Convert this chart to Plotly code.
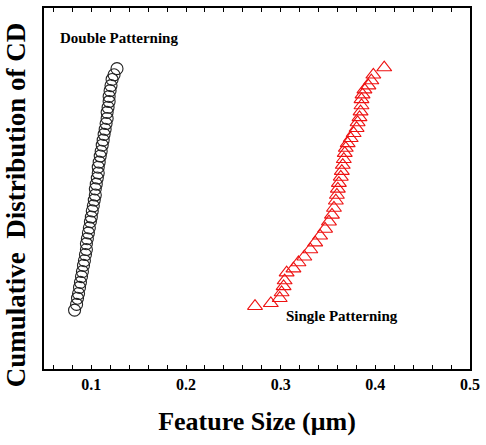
import plotly.graph_objects as go

# Double patterning (circles): feature size (um) and cumulative position (%)
dp_size = [0.0823, 0.0844, 0.0854, 0.0865, 0.0875, 0.0885, 0.0896, 0.0906, 0.0917, 0.0927,
           0.0938, 0.0948, 0.0948, 0.0958, 0.0969, 0.0979, 0.0990, 0.1000, 0.1010, 0.1021,
           0.1031, 0.1042, 0.1042, 0.1052, 0.1063, 0.1073, 0.1073, 0.1083, 0.1094, 0.1104,
           0.1115, 0.1125, 0.1135, 0.1146, 0.1156, 0.1167, 0.1167, 0.1177, 0.1188, 0.1188,
           0.1198, 0.1208, 0.1219, 0.1240, 0.1271]
dp_cum = [16.3, 17.9, 19.6, 20.9, 22.6, 24.0, 25.6, 27.0, 28.7, 30.0,
          31.7, 33.1, 34.7, 36.1, 37.7, 39.1, 40.8, 42.1, 43.8, 45.2,
          46.8, 48.2, 49.9, 51.2, 52.9, 54.3, 55.9, 57.3, 59.0, 60.3,
          62.0, 63.4, 65.0, 66.4, 68.0, 69.4, 71.1, 72.5, 74.1, 75.5,
          77.1, 78.5, 80.2, 81.5, 83.2]

# Single patterning (triangles)
sp_size = [0.2729, 0.2896, 0.2990, 0.3010, 0.3031, 0.3042, 0.3063, 0.3135, 0.3188, 0.3250,
           0.3313, 0.3365, 0.3417, 0.3469, 0.3510, 0.3542, 0.3563, 0.3583, 0.3594, 0.3604,
           0.3615, 0.3635, 0.3646, 0.3656, 0.3667, 0.3677, 0.3688, 0.3708, 0.3740, 0.3771,
           0.3802, 0.3813, 0.3833, 0.3844, 0.3854, 0.3854, 0.3865, 0.3885, 0.3927, 0.3958,
           0.3979, 0.4094]
sp_cum = [17.4, 18.2, 19.6, 21.2, 22.9, 24.5, 26.7, 27.8, 29.5, 31.1,
          33.1, 35.0, 36.9, 38.8, 40.8, 42.7, 44.6, 46.6, 48.2, 49.9,
          51.5, 53.2, 54.8, 56.5, 58.1, 59.8, 61.2, 62.5, 63.9, 65.3,
          66.7, 68.3, 69.7, 71.3, 73.0, 74.7, 76.0, 77.4, 78.5, 79.9,
          81.5, 83.5]

x_tickvals = [0.1, 0.2, 0.3, 0.4, 0.5]
x_ticktext = ["0.1", "0.2", "0.3", "0.4", "0.5"]

FONT = "Liberation Serif, Times New Roman, serif"

fig = go.Figure()
fig.add_trace(go.Scatter(
    x=dp_size, y=dp_cum, mode="markers", name="Double Patterning",
    marker=dict(symbol="circle-open", size=12, color="#222222", line=dict(width=1.1)),
))
fig.add_trace(go.Scatter(
    x=sp_size, y=sp_cum, mode="markers", name="Single Patterning",
    marker=dict(symbol="triangle-up-open", size=13, color="#ee1111", line=dict(width=1.1)),
))

fig.update_layout(
    width=486, height=445,
    margin=dict(l=44, r=10, t=6, b=76),
    paper_bgcolor="white", plot_bgcolor="white",
    showlegend=False,
    font=dict(family=FONT, color="black"),
    xaxis=dict(
        range=[0.05, 0.5],
        tickmode="array", tickvals=x_tickvals, ticktext=x_ticktext,
        ticks="inside", ticklen=4, tickwidth=1.2, tickcolor="black",
        minor=dict(dtick=0.02, tick0=0, ticks="inside", ticklen=4, tickwidth=1.2,
                   tickcolor="black", showgrid=False),
        showline=True, linewidth=2, linecolor="black", mirror="ticks",
        showgrid=False, zeroline=False,
        tickfont=dict(family=FONT, size=16, color="black", weight="bold"),
        title=dict(text="<b>Feature Size (μm)</b>", font=dict(family=FONT, size=26), standoff=20),
    ),
    yaxis=dict(
        range=[0, 100],
        showticklabels=False, ticks="",
        showline=True, linewidth=2, linecolor="black", mirror=True,
        showgrid=False, zeroline=False,
    ),
    annotations=[
        dict(text="<b>Cumulative  Distribution of CD</b>", textangle=-90,
             xref="paper", yref="paper", x=-0.067, y=0.455, xanchor="center", yanchor="middle",
             showarrow=False, font=dict(family=FONT, size=27, color="black")),
        dict(text="<b>Double Patterning</b>", xref="paper", yref="paper",
             x=(58 - 44) / 432, y=(369 - 36) / 363, xanchor="left", yanchor="middle",
             showarrow=False, font=dict(family=FONT, size=15, color="black")),
        dict(text="<b>Single Patterning</b>", xref="paper", yref="paper",
             x=(287 - 44) / 432, y=(369 - 316) / 363, xanchor="left", yanchor="middle",
             showarrow=False, font=dict(family=FONT, size=15, color="black")),
    ],
)

fig.write_html("out.html")
